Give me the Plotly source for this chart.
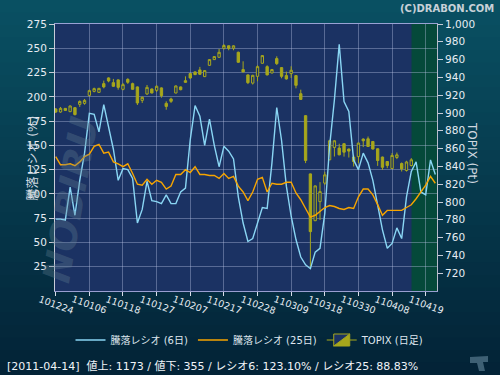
import plotly.graph_objects as go
import pandas as pd

# ---------------- data ----------------
holidays = ['2010-12-31', '2011-01-03', '2011-01-10', '2011-02-11', '2011-03-21']
trade_days = pd.bdate_range('2010-12-24', '2011-04-21', freq='C', holidays=holidays)
dates = [d.strftime('%y%m%d') for d in trade_days]          # 80 trading days
candle_dates = dates[:75]                                    # up to 2011-04-14

tick_labels = ['101224', '110106', '110118', '110127', '110207', '110217',
               '110228', '110309', '110318', '110330', '110408', '110419']

opens = [904.5, 901.1, 905.2, 901.5, 906.0, 909.7, 910.8, 919.8, 924.3, 923.2,
         933.0, 939.4, 934.1, 937.2, 926.6, 937.8, 933.0, 929.3, 914.2, 921.4,
         927.0, 925.5, 928.2, 910.8, 915.8, 922.5, 929.3, 936.3, 944.3, 946.2,
         948.4, 940.9, 953.6, 960.0, 962.6, 972.7, 975.5, 972.7, 968.2, 948.8,
         942.8, 933.6, 941.2, 955.9, 952.1, 945.0, 961.1, 951.0, 942.0, 944.3,
         942.0, 921.7, 897.0, 831.6, 779.0, 800.4, 821.2, 847.4, 861.3, 860.6,
         865.5, 859.5, 850.5, 851.0, 870.7, 871.0, 868.0, 859.8, 850.5, 845.5,
         837.6, 850.0, 843.2, 835.4, 841.0]
closes = [901.1, 905.2, 902.9, 907.9, 898.2, 913.0, 914.2, 925.1, 927.4, 927.7,
          929.3, 936.0, 930.0, 928.8, 931.9, 934.5, 926.6, 911.3, 917.6, 928.8,
          922.5, 930.0, 919.5, 907.4, 913.1, 930.4, 926.2, 934.5, 939.4, 943.1,
          943.5, 947.6, 960.0, 963.4, 968.2, 975.8, 972.7, 975.5, 957.0, 946.2,
          934.1, 942.3, 952.1, 964.5, 942.8, 948.8, 955.5, 941.2, 938.3, 948.0,
          931.1, 915.3, 846.6, 766.7, 818.1, 811.7, 830.5, 868.8, 868.8, 853.0,
          856.0, 857.2, 845.5, 866.2, 868.8, 862.4, 859.5, 846.6, 839.0, 841.0,
          852.3, 853.0, 837.2, 845.0, 847.4]
highs = [905.6, 906.8, 905.6, 908.5, 906.5, 914.2, 915.8, 926.2, 928.5, 928.2,
         936.4, 940.1, 938.3, 937.8, 933.8, 939.0, 934.1, 929.8, 918.7, 931.5,
         927.5, 931.1, 928.8, 913.1, 917.2, 931.0, 929.8, 941.2, 944.8, 946.8,
         951.8, 948.2, 960.5, 964.0, 972.0, 977.3, 976.0, 976.0, 969.0, 958.1,
         943.3, 943.0, 953.6, 965.0, 953.6, 949.5, 963.7, 951.5, 946.5, 952.5,
         942.5, 926.2, 897.5, 832.0, 818.5, 822.3, 833.9, 869.9, 869.4, 865.5,
         866.0, 860.0, 853.0, 866.7, 871.5, 873.6, 868.5, 860.3, 851.0, 846.0,
         855.0, 855.6, 844.4, 846.3, 849.3]
lows = [900.0, 900.3, 902.5, 901.0, 897.3, 906.8, 909.3, 918.7, 923.2, 922.7,
        927.7, 934.5, 929.5, 926.2, 925.5, 932.7, 926.2, 909.0, 911.3, 920.3,
        922.0, 923.6, 917.2, 903.7, 911.3, 922.0, 925.5, 934.0, 938.3, 942.6,
        942.8, 940.3, 953.0, 959.5, 962.0, 971.3, 970.5, 970.5, 956.5, 945.7,
        932.5, 932.0, 935.6, 955.4, 942.3, 944.5, 954.0, 939.0, 937.5, 939.4,
        927.7, 914.8, 843.7, 725.4, 778.5, 779.8, 819.3, 847.0, 851.1, 852.5,
        851.0, 850.0, 839.9, 843.7, 861.7, 862.0, 859.0, 840.6, 836.0, 838.0,
        837.0, 848.2, 834.2, 834.2, 839.9]

ratio6 = [74, 74, 73, 107, 78, 114, 142, 183, 182, 164,
          192, 169, 146, 114, 126, 125, 116, 70, 84, 113,
          93, 92, 90, 99, 90, 90, 102, 106, 156, 191,
          180, 150, 177, 150, 128, 149, 144, 136, 97, 70,
          51, 54, 70, 86, 85, 132, 189, 155, 108, 77,
          53, 35, 27, 23, 40, 44, 80, 149, 197, 254,
          195, 185, 135, 125, 142, 132, 114, 87, 63, 44,
          49, 65, 54, 97, 123.1, 133, 102, 99, 135, 120]
ratio25 = [138.5, 130, 130, 131, 129, 133, 138.5, 141, 149, 151,
           142, 143, 133, 131, 128, 131, 121, 110, 109, 115,
           110, 114, 112, 105, 108, 120, 120, 125, 122, 128,
           120, 120, 119, 119, 116, 121, 116, 118, 108, 102,
           93, 102, 115, 117, 102, 111, 110, 110, 112, 112,
           101, 94, 85, 76, 78, 82, 86, 88, 87, 85,
           84, 86, 85, 97, 105, 105, 99, 89, 78, 83,
           83, 83, 83, 86, 88.83, 95, 102, 109, 118, 111]

ratio_ticks = [25, 50, 75, 100, 125, 150, 175, 200, 225, 250, 275]
topix_ticks = list(range(720, 1001, 20))

footer = "[2011-04-14]  値上: 1173 / 値下: 355 / レシオ6: 123.10% / レシオ25: 88.83%"

# ---------------- layout geometry ----------------
W, H = 500, 375
ML, MR, MT, MB = 55, 63, 24, 84
PW, PH = W - ML - MR, H - MT - MB


def px(x):
    return (x - ML) / PW


def py(y):
    return (H - MB - y) / PH


FONT = "DejaVu Sans, Noto Sans CJK JP, sans-serif"
OLIVE = "#a7a71c"

fig = go.Figure()

fig.add_trace(go.Candlestick(
    x=candle_dates, open=opens, high=highs, low=lows, close=closes,
    yaxis='y', name='TOPIX (日足)', legendrank=3,
    increasing=dict(line=dict(color=OLIVE, width=1), fillcolor='#1b3263'),
    decreasing=dict(line=dict(color=OLIVE, width=1), fillcolor=OLIVE),
    whiskerwidth=0, hoverinfo='skip'))

fig.add_trace(go.Scatter(
    x=dates, y=ratio6, yaxis='y2', mode='lines', name='騰落レシオ (6日)',
    line=dict(color='#8ad6f4', width=1.4), legendrank=1, hoverinfo='skip'))
fig.add_trace(go.Scatter(
    x=dates, y=ratio25, yaxis='y2', mode='lines', name='騰落レシオ (25日)',
    line=dict(color='#f7a500', width=1.4), legendrank=2, hoverinfo='skip'))

# background gradient bands
shapes = []
N = 30
top_c = (9, 80, 98)
bot_c = (3, 35, 55)
for i in range(N):
    t = i / (N - 1)
    c = tuple(round(top_c[k] + (bot_c[k] - top_c[k]) * t) for k in range(3))
    y0 = H * i / N
    y1 = H * (i + 1) / N + 1
    shapes.append(dict(type='rect', xref='paper', yref='paper', layer='below',
                       x0=px(0), x1=px(W), y0=py(y1), y1=py(y0),
                       fillcolor='rgb(%d,%d,%d)' % c, line=dict(width=0)))
# plot area + highlighted green zone
shapes.append(dict(type='rect', xref='paper', yref='paper', layer='below',
                   x0=0, x1=1, y0=0, y1=1, fillcolor='#1b3263', line=dict(width=0)))
shapes.append(dict(type='rect', xref='x', yref='paper', layer='below',
                   x0=74.05, x1=79.6, y0=0, y1=1, fillcolor='#05493a', line=dict(width=0)))
# small icon bottom right
icon = [(470, 357), (488, 356), (488, 362), (483, 362), (485, 371), (479, 371), (477, 363), (470, 363)]
path = 'M ' + ' L '.join('%f %f' % (px(a), py(b)) for a, b in icon) + ' Z'
shapes.append(dict(type='path', xref='paper', yref='paper', path=path,
                   fillcolor='rgb(62,96,116)', line=dict(width=0)))

annotations = []
for lab in tick_labels:
    annotations.append(dict(x=dates.index(lab), y=0, xref='x', yref='paper', text=lab,
                            showarrow=False, textangle=20, xanchor='center', yanchor='top',
                            yshift=0, font=dict(family=FONT, size=9.5, color='#e6ecf2')))
annotations += [
    dict(x=px(32), y=py(200), xref='paper', yref='paper', text='NOBIRU', showarrow=False,
         textangle=-80, yanchor='middle',
         font=dict(family='DejaVu Sans', size=38, color='rgba(95,125,145,0.35)',
                   weight='bold', style='italic')),
    dict(x=px(22), y=py(158), xref='paper', yref='paper', text='騰落レシオ (%)', showarrow=False,
         textangle=-90, yanchor='middle', font=dict(family=FONT, size=12, color='#d0d8e0')),
    dict(x=px(481), y=py(153), xref='paper', yref='paper', text='TOPIX (Pt)', showarrow=False,
         textangle=90, yanchor='middle', font=dict(family=FONT, size=12, color='#d0d8e0')),
    dict(x=px(496), y=py(8), xref='paper', yref='paper', text='(C)DRABON.COM', showarrow=False,
         xanchor='right', yanchor='middle',
         font=dict(family=FONT, size=10, color='#c8d0d8', weight='bold')),
    dict(x=px(5), y=py(366), xref='paper', yref='paper', text=footer, showarrow=False,
         xanchor='left', yanchor='middle', font=dict(family=FONT, size=11, color='#f0f4f8')),
]

GRID = 'rgba(190,198,232,0.38)'
fig.update_layout(
    width=W, height=H,
    margin=dict(l=ML, r=MR, t=MT, b=MB, autoexpand=False),
    paper_bgcolor='#04364a', plot_bgcolor='#1b3263',
    font=dict(family=FONT, color='#e6ecf2'),
    showlegend=True,
    legend=dict(orientation='h', x=px(250), y=py(340), xanchor='center', yanchor='middle',
                font=dict(family=FONT, size=10, color='#dfe6ee'), bgcolor='rgba(0,0,0,0)'),
    xaxis=dict(type='category', range=[-0.15, 79.35], tickmode='array', tickvals=tick_labels,
               showticklabels=False, ticks='outside', ticklen=4, tickcolor='#d8dde8',
               showgrid=True, gridcolor=GRID, gridwidth=1,
               showline=True, linecolor='rgba(170,172,225,0.9)', mirror=True,
               rangeslider=dict(visible=False), fixedrange=True),
    yaxis=dict(side='right', range=[700, 1000], tickmode='array', tickvals=topix_ticks,
               tickformat=',', ticks='outside', ticklen=5, tickcolor='#c8ccd8',
               tickfont=dict(family=FONT, size=10.5, color='#e6ecf2'),
               showgrid=False, zeroline=False, showline=True, linecolor='#b8bccc'),
    yaxis2=dict(side='left', overlaying='y', range=[0, 275], tickmode='array', tickvals=ratio_ticks,
                ticks='outside', ticklen=5, tickcolor='#c8ccd8',
                tickfont=dict(family=FONT, size=10.5, color='#e6ecf2'),
                showgrid=True, gridcolor=GRID, gridwidth=1, zeroline=False,
                showline=True, linecolor='#c8ccd8'),
    shapes=shapes, annotations=annotations,
)

fig.write_html('out.html', config={'displayModeBar': False},
               post_script="document.body.style.margin='0';document.body.style.overflow='hidden';")
